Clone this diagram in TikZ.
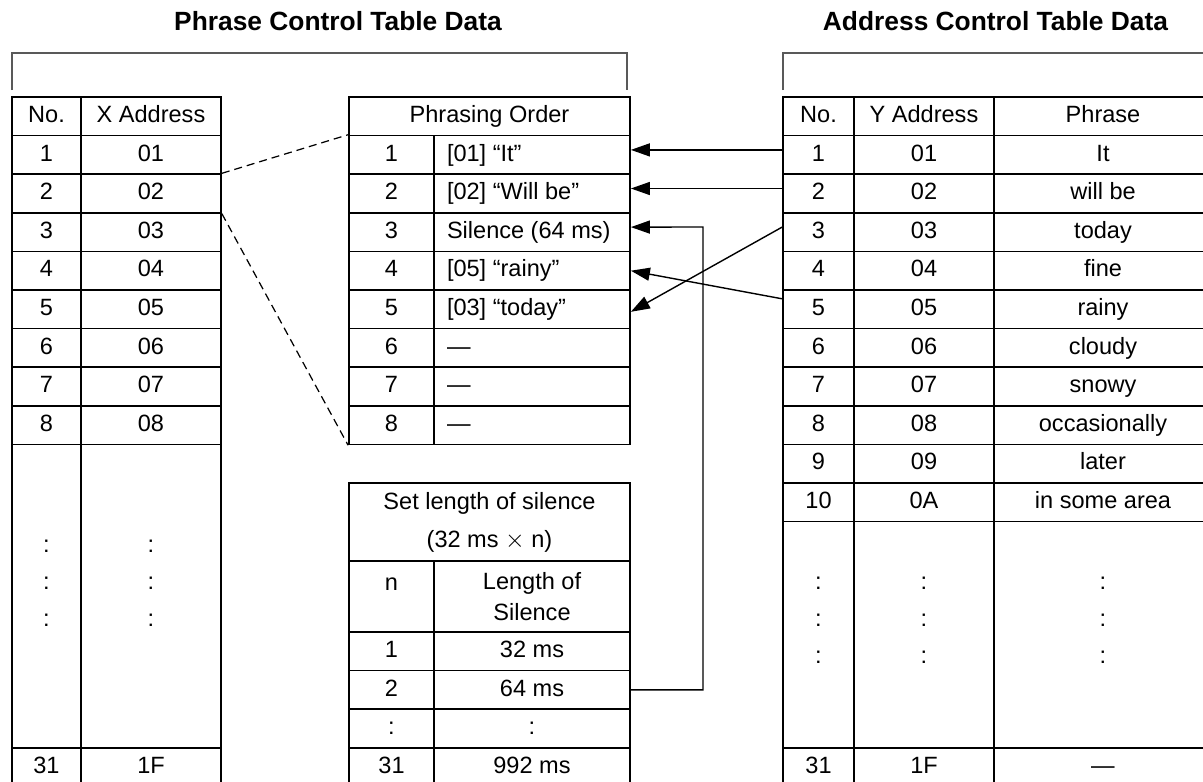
\documentclass[tikz,border=0pt]{standalone}
\usepackage{fontspec}
\setmainfont{Liberation Sans}
\usetikzlibrary{arrows.meta}
\def\pix{0.02cm}
\tikzset{
  cellbase/.style={
    draw,
    line width=1pt,
    inner sep=0pt
  },
  cell/.style={
    cellbase,
    text height=0.716em,
    text depth=0pt
  },
  colw/.style={minimum width=#1*\pix},
  rowh/.style={minimum height=#1*\pix},
  title/.style={
    font=\fontsize{15}{18}\selectfont\bfseries,
    text height=0.716em,
    text depth=0pt,
    inner sep=0pt
  },
  dotcol/.style={
    align=center,
    inner sep=0pt,
    font=\fontsize{13.4}{21}\selectfont
  },
  brk/.style={line width=0.7pt, black!65},
  arr/.style={line width=0.8pt, -{Triangle[length=0.38cm, width=0.26cm]}},
  zoomline/.style={line width=0.7pt, dash pattern=on 0.16cm off 0.1cm}
}
\begin{document}
\begin{tikzpicture}[x=0.02cm, y=-0.02cm, font=\fontsize{13.4}{16}\selectfont]
    \def\yo{97}
    \def\rh{38.6}
    \useasboundingbox (0,0) rectangle (1203,781);
    \clip (0,0) rectangle (1203,781);
    % titles and brackets
    \node[title] (ptitle) at (338,24) {Phrase Control Table Data};
    \node[title] (atitle) at (995.5,24) {Address Control Table Data};
    \draw[brk] (12,90) |- (627,53) -- (627,90);
    \draw[brk] (783,90) |- (1215,53);
    % X address table
    \node[cell, colw=69, rowh=\rh] (xhn) at (46.5,{\yo+0.5*\rh}) {No.};
    \node[cell, colw=140, rowh=\rh] (xha) at (151,{\yo+0.5*\rh}) {X Address};
    \foreach \n in {1,...,8}{
    \node[cell, colw=69, rowh=\rh] (xn\n) at (46.5,{\yo+(\n+0.5)*\rh}) {\n};
    \node[cell, colw=140, rowh=\rh] (xa\n) at (151,{\yo+(\n+0.5)*\rh}) {0\n};}
    \node[cellbase, colw=69, rowh=303.6] (xnd) at (46.5,596.2) {};
    \node[cellbase, colw=140, rowh=303.6] (xad) at (151,596.2) {};
    \node[dotcol] (xndots) at (46.5,583) {:\\:\\:};
    \node[dotcol] (xadots) at (151,583) {:\\:\\:};
    \node[cell, colw=69, rowh=\rh] (xn31) at (46.5,767.1) {31};
    \node[cell, colw=140, rowh=\rh] (xa31) at (151,767.1) {1F};
    % phrasing order
    \node[cell, colw=281, rowh=\rh] (ph) at (489.5,{\yo+0.5*\rh}) {Phrasing Order};
    \foreach \n/\t in {1/{[01] “It”}, 2/{[02] “Will be”}, 3/{Silence (64 ms)}, 4/{[05] “rainy”},
                       5/{[03] “today”}, 6/—, 7/—, 8/—}{
    \node[cell, colw=85, rowh=\rh] (pn\n) at (391.5,{\yo+(\n+0.5)*\rh}) {\n};
    \node[cell, colw=196, rowh=\rh] (pt\n) at (532,{\yo+(\n+0.5)*\rh}) {\makebox[3.4cm][l]{\t}};}
    % silence length table
    \node[cellbase, colw=281, rowh=78.2, align=center, font=\fontsize{13.4}{21.6}\selectfont]
      (sh) at (489.5,522.1) {Set length of silence\\(32 ms $\times$ n)};
    \node[cellbase, colw=85, rowh=70.8] (snh) at (391.5,596.6) {};
    \node[anchor=base, inner sep=0pt] (snt) at (391.5,590) {n};
    \node[cellbase, colw=196, rowh=70.8, align=center, font=\fontsize{13.4}{17.6}\selectfont]
      (svh) at (532,596.6) {Length of\\Silence};
    \foreach \k/\n/\v in {1/1/32 ms, 2/2/64 ms, 3/:/:, 4/31/992 ms}{
    \node[cell, colw=85, rowh=\rh] (sn\k) at (391.5,{632+(\k-0.5)*\rh}) {\n};
    \node[cell, colw=196, rowh=\rh] (sv\k) at (532,{632+(\k-0.5)*\rh}) {\v};}
    % Y address table
    \node[cell, colw=71, rowh=\rh] (rhn) at (818.5,{\yo+0.5*\rh}) {No.};
    \node[cell, colw=140, rowh=\rh] (rha) at (924,{\yo+0.5*\rh}) {Y Address};
    \node[cell, colw=218, rowh=\rh] (rhp) at (1103,{\yo+0.5*\rh}) {Phrase};
    \foreach \n/\a/\p in {1/01/It, 2/02/will be, 3/03/today, 4/04/fine, 5/05/rainy, 6/06/cloudy,
                          7/07/snowy, 8/08/occasionally, 9/09/later, 10/0A/in some area}{
    \node[cell, colw=71, rowh=\rh] (rn\n) at (818.5,{\yo+(\n+0.5)*\rh}) {\n};
    \node[cell, colw=140, rowh=\rh] (ra\n) at (924,{\yo+(\n+0.5)*\rh}) {\a};
    \node[cell, colw=218, rowh=\rh] (rp\n) at (1103,{\yo+(\n+0.5)*\rh}) {\p};}
    \node[cellbase, colw=71, rowh=226.4] (rnd) at (818.5,634.8) {};
    \node[cellbase, colw=140, rowh=226.4] (rad) at (924,634.8) {};
    \node[cellbase, colw=218, rowh=226.4] (rpd) at (1103,634.8) {};
    \foreach \c/\xx in {n/818.5, a/924, p/1103}{
    \node[dotcol] (r\c dots) at (\xx,620) {:\\:\\:};}
    \node[cell, colw=71, rowh=\rh] (rn31) at (818.5,767.1) {31};
    \node[cell, colw=140, rowh=\rh] (ra31) at (924,767.1) {1F};
    \node[cell, colw=218, rowh=\rh] (rp31) at (1103,767.1) {—};
    % connectors
    \draw[zoomline] (xa2.north east) -- (pn1.north west);
    \draw[zoomline] (xa2.south east) -- (pn8.south west);
    \draw[arr] ([yshift=0.1cm]rn1.west) -- ([yshift=0.1cm]pt1.east);
    \draw[arr] ([yshift=0.1cm]rn2.west) -- ([yshift=0.1cm]pt2.east);
    \draw[arr] ([yshift=0.1cm]rn3.west) -- ([yshift=-0.05cm]pt5.east);
    \draw[arr] ([yshift=0.21cm]rn5.west) -- (pt4.east);
    \coordinate (turn) at (703,227);
    \draw[arr] (sv2.east) -| (turn) -- ([yshift=0.1cm]pt3.east);
\end{tikzpicture}
\end{document}
